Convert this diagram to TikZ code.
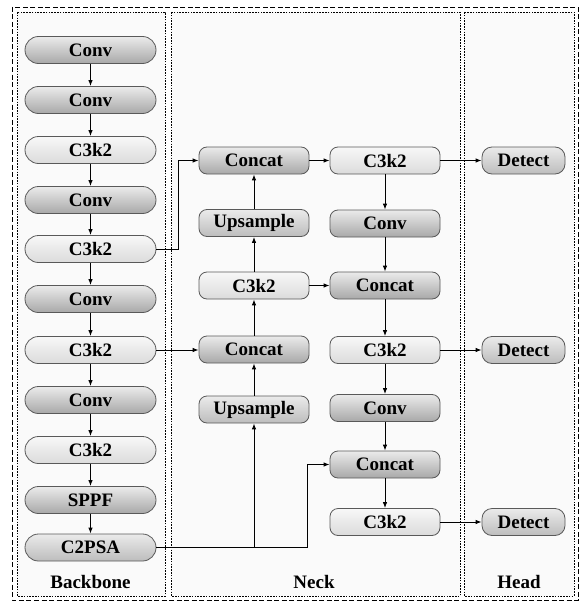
\documentclass[tikz,border=0pt]{standalone}
\usepackage{fontspec}
\setmainfont{Liberation Serif}[BoldFont={Liberation Serif Bold}]
\usetikzlibrary{arrows.meta}
\begin{document}
\begin{tikzpicture}[x=1pt,y=-1pt,
  box/.style={draw=black!65, line width=0.8pt, minimum height=27pt, inner sep=0pt,
    font=\rmfamily\fontsize{19}{21}\selectfont\bfseries},
  pill/.style={box, rounded corners=13.5pt, minimum width=131pt},
  nbox/.style={box, rounded corners=8pt, minimum width=110pt},
  dbox/.style={box, rounded corners=10pt, minimum width=83pt},
  dark/.style={top color=black!8, bottom color=black!34},
  light/.style={top color=black!3, bottom color=black!14},
  mid/.style={top color=black!8, bottom color=black!26},
  panel/.style={draw=black, line width=0.9pt, dash pattern=on 1.6pt off 1.2pt, fill=black!2},
  outer/.style={draw=black, line width=0.9pt, dash pattern=on 5pt off 2.5pt},
  arr/.style={-{Latex[length=6pt,width=4.5pt]}, line width=0.9pt, black},
  ln/.style={line width=0.9pt, black},
  lbl/.style={font=\rmfamily\fontsize{19}{21}\selectfont\bfseries}
]
\useasboundingbox (0,0) rectangle (585,602);
\fill[white] (0,0) rectangle (585,602);
\draw[outer] (12,7) rectangle (578,600);
\draw[panel] (17,12) rectangle (165,596);
\draw[panel] (171,12) rectangle (460,596);
\draw[panel] (464,12) rectangle (574,596);

% Backbone
\node[pill,dark]  (b1)  at (90.5,50)  {Conv};
\node[pill,dark]  (b2)  at (90.5,100) {Conv};
\node[pill,light] (b3)  at (90.5,150) {C3k2};
\node[pill,dark]  (b4)  at (90.5,200) {Conv};
\node[pill,light] (b5)  at (90.5,249) {C3k2};
\node[pill,dark]  (b6)  at (90.5,299) {Conv};
\node[pill,light] (b7)  at (90.5,350) {C3k2};
\node[pill,dark]  (b8)  at (90.5,400) {Conv};
\node[pill,light] (b9)  at (90.5,450) {C3k2};
\node[pill,dark]  (b10) at (90.5,500) {SPPF};
\node[pill,mid]   (b11) at (90.5,547.5) {C2PSA};

% Neck column 1
\node[nbox,dark]  (n1) at (254,160.5) {Concat};
\node[nbox,mid]   (n2) at (254,223) {Upsample};
\node[nbox,light] (n3) at (254,285.5) {C3k2};
\node[nbox,dark]  (n4) at (254,349.5) {Concat};
\node[nbox,mid]   (n5) at (254,409.5) {Upsample};

% Neck column 2
\node[nbox,light] (m1) at (385,160.5) {C3k2};
\node[nbox,dark]  (m2) at (385,223.5) {Conv};
\node[nbox,dark]  (m3) at (385,285.5) {Concat};
\node[nbox,light] (m4) at (385,350) {C3k2};
\node[nbox,dark]  (m5) at (385,408) {Conv};
\node[nbox,dark]  (m6) at (385,464.5) {Concat};
\node[nbox,light] (m7) at (385,522) {C3k2};

% Head
\node[dbox,mid] (h1) at (523.5,160.5) {Detect};
\node[dbox,mid] (h2) at (523.5,350) {Detect};
\node[dbox,mid] (h3) at (523.5,522) {Detect};

% Labels
\node[lbl] (lb) at (90.5,582) {Backbone};
\node[lbl] (ln) at (314,582) {Neck};
\node[lbl] (lh) at (519,582) {Head};

% Backbone chain
\foreach \a/\b in {b1/b2,b2/b3,b3/b4,b4/b5,b5/b6,b6/b7,b7/b8,b8/b9,b9/b10,b10/b11}
  \draw[arr] (\a) -- (\b);

% Backbone to neck
\coordinate (j1) at (178,249);
\draw[arr] (b5.east) -- (j1) |- (n1.west);
\draw[arr] (b7.east) -- (b7.east -| n4.west);
\coordinate (j2) at (254,547.5);
\coordinate (j3) at (307,547.5);
\draw[ln] (b11.east) -- (j3);
\draw[arr] (j2) -- (n5.south);
\draw[arr] (j3) |- (m6.west);

% Neck column 1 upward
\draw[arr] (n5) -- (n4);
\draw[arr] (n4) -- (n3);
\draw[arr] (n3) -- (n2);
\draw[arr] (n2) -- (n1);
\draw[arr] (n1) -- (m1);
\draw[arr] (n3) -- (m3);

% Neck column 2 downward
\foreach \a/\b in {m1/m2,m2/m3,m3/m4,m4/m5,m5/m6,m6/m7}
  \draw[arr] (\a) -- (\b);

% To head
\draw[arr] (m1) -- (h1);
\draw[arr] (m4) -- (h2);
\draw[arr] (m7) -- (h3);
\end{tikzpicture}
\end{document}
